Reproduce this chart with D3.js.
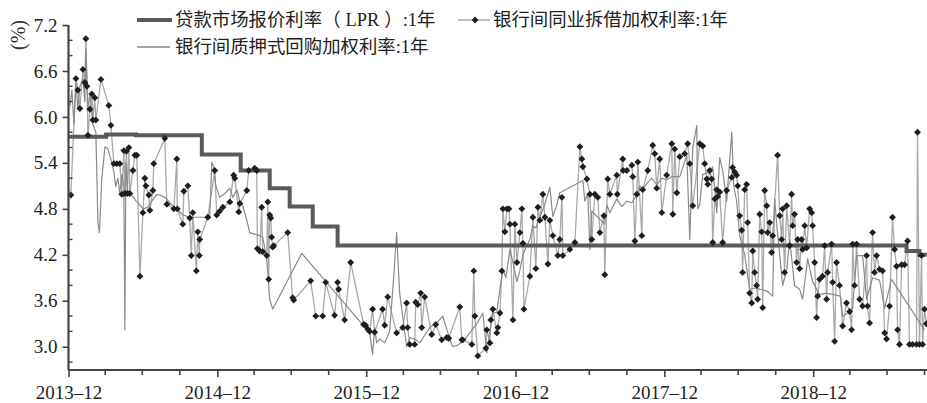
<!DOCTYPE html>
<html><head><meta charset="utf-8">
<script src="https://cdn.jsdelivr.net/npm/d3@7"></script>
<style>body{margin:0;background:#fff}svg{display:block}</style>
</head><body>
<svg id="c" width="927" height="403"></svg>
<script>
// ---- data (time as decimal year) ----
const lprData = [[2014.0,5.74],[2014.25,5.77],[2014.45,5.76],[2014.893,5.51],[2015.154,5.30],[2015.349,5.07],[2015.483,4.83],[2015.638,4.57],[2015.805,4.32],[2019.624,4.25],[2019.711,4.20],[2019.76,4.20]];

const lendingData = [[2014.013,4.98],[2014.047,6.50],[2014.060,6.35],[2014.074,6.11],[2014.094,6.62],[2014.107,6.45],[2014.114,7.02],[2014.121,6.40],[2014.128,5.76],[2014.141,6.10],[2014.154,6.30],[2014.161,5.96],[2014.174,6.25],[2014.181,5.96],[2014.215,6.49],[2014.268,6.15],[2014.282,5.89],[2014.302,5.39],[2014.322,5.39],[2014.342,5.39],[2014.356,4.99],[2014.369,5.56],[2014.376,5.00],[2014.386,5.55],[2014.393,5.00],[2014.403,5.60],[2014.409,5.00],[2014.430,5.30],[2014.443,5.50],[2014.456,5.50],[2014.477,3.92],[2014.497,4.75],[2014.510,5.20],[2014.517,5.10],[2014.537,4.98],[2014.544,4.78],[2014.564,5.04],[2014.570,5.39],[2014.644,5.72],[2014.658,4.86],[2014.705,4.80],[2014.725,5.45],[2014.728,4.80],[2014.765,4.60],[2014.772,5.03],[2014.799,5.10],[2014.812,4.68],[2014.822,4.19],[2014.832,4.75],[2014.856,3.99],[2014.866,4.50],[2014.876,4.19],[2014.879,4.40],[2014.933,4.69],[2014.980,5.30],[2014.993,4.72],[2015.013,4.77],[2015.034,4.82],[2015.081,4.89],[2015.107,5.24],[2015.114,5.20],[2015.141,4.76],[2015.148,4.87],[2015.195,5.04],[2015.208,5.30],[2015.248,5.33],[2015.262,5.30],[2015.266,4.28],[2015.282,4.25],[2015.295,4.82],[2015.302,4.24],[2015.329,4.19],[2015.336,4.89],[2015.342,3.88],[2015.349,4.72],[2015.356,4.68],[2015.362,4.43],[2015.369,4.30],[2015.376,4.32],[2015.470,4.49],[2015.503,3.64],[2015.510,3.61],[2015.624,3.86],[2015.658,3.40],[2015.705,3.40],[2015.725,3.84],[2015.785,3.41],[2015.805,3.84],[2015.812,3.75],[2015.852,3.35],[2015.893,4.10],[2015.980,3.29],[2015.993,3.28],[2016.007,3.23],[2016.020,3.20],[2016.040,3.49],[2016.054,3.19],[2016.107,3.49],[2016.121,3.28],[2016.141,3.65],[2016.201,3.18],[2016.242,3.25],[2016.268,3.57],[2016.275,3.25],[2016.289,3.03],[2016.322,3.03],[2016.329,3.58],[2016.342,3.55],[2016.362,3.70],[2016.369,3.25],[2016.389,3.65],[2016.436,3.16],[2016.463,3.29],[2016.503,3.09],[2016.537,3.12],[2016.550,3.11],[2016.624,3.52],[2016.638,3.09],[2016.644,3.09],[2016.705,3.03],[2016.718,3.99],[2016.725,3.40],[2016.745,2.88],[2016.799,2.98],[2016.805,3.22],[2016.826,3.05],[2016.832,3.35],[2016.846,3.49],[2016.872,3.18],[2016.879,3.25],[2016.893,3.44],[2016.906,3.99],[2016.913,4.80],[2016.926,4.50],[2016.940,4.80],[2016.953,4.80],[2016.960,4.60],[2016.980,3.35],[2016.993,4.60],[2017.007,4.10],[2017.027,4.49],[2017.040,4.80],[2017.047,4.35],[2017.054,3.49],[2017.094,3.92],[2017.114,4.69],[2017.134,4.02],[2017.148,4.82],[2017.161,4.65],[2017.181,4.99],[2017.195,4.69],[2017.215,4.08],[2017.228,4.65],[2017.248,4.45],[2017.282,4.19],[2017.295,4.40],[2017.309,4.95],[2017.315,4.19],[2017.362,4.27],[2017.396,4.36],[2017.430,5.61],[2017.443,5.45],[2017.450,5.35],[2017.477,5.19],[2017.497,4.99],[2017.510,4.40],[2017.530,4.99],[2017.550,4.95],[2017.564,4.49],[2017.591,4.71],[2017.597,3.94],[2017.617,5.19],[2017.631,4.99],[2017.678,5.24],[2017.681,4.99],[2017.718,5.45],[2017.721,5.30],[2017.745,5.30],[2017.779,5.37],[2017.785,5.22],[2017.799,4.38],[2017.812,4.99],[2017.819,5.41],[2017.846,4.45],[2017.852,5.05],[2017.886,5.30],[2017.919,5.63],[2017.933,5.52],[2017.946,5.07],[2017.966,5.45],[2017.980,4.75],[2018.013,5.24],[2018.047,5.65],[2018.054,4.73],[2018.067,5.58],[2018.081,5.01],[2018.101,5.48],[2018.134,5.52],[2018.154,5.65],[2018.168,5.39],[2018.188,4.84],[2018.235,5.65],[2018.255,5.62],[2018.268,5.39],[2018.282,5.19],[2018.289,5.12],[2018.302,5.30],[2018.315,5.19],[2018.322,4.36],[2018.336,4.93],[2018.349,5.05],[2018.356,4.96],[2018.369,5.02],[2018.389,4.36],[2018.416,5.04],[2018.450,5.21],[2018.456,5.34],[2018.470,5.28],[2018.483,5.24],[2018.490,5.10],[2018.503,4.71],[2018.517,4.52],[2018.523,3.97],[2018.537,5.05],[2018.550,5.12],[2018.557,4.62],[2018.570,3.70],[2018.584,3.57],[2018.591,4.25],[2018.604,3.97],[2018.617,3.80],[2018.624,3.62],[2018.638,4.73],[2018.651,4.50],[2018.658,3.51],[2018.671,5.04],[2018.685,4.84],[2018.691,4.49],[2018.705,4.62],[2018.718,4.23],[2018.725,4.45],[2018.758,5.50],[2018.772,4.71],[2018.785,4.40],[2018.792,4.80],[2018.805,3.97],[2018.819,4.84],[2018.839,4.32],[2018.852,4.99],[2018.859,4.58],[2018.872,4.73],[2018.886,4.10],[2018.893,4.40],[2018.906,4.02],[2018.919,4.40],[2018.926,4.27],[2018.940,4.58],[2018.953,4.29],[2018.973,4.80],[2018.987,4.75],[2018.993,4.58],[2019.007,4.10],[2019.020,3.38],[2019.027,3.66],[2019.040,3.88],[2019.060,3.92],[2019.074,4.32],[2019.087,3.62],[2019.094,3.97],[2019.121,4.34],[2019.128,3.84],[2019.141,3.07],[2019.154,4.10],[2019.174,3.80],[2019.195,3.27],[2019.221,3.57],[2019.242,3.46],[2019.255,3.22],[2019.262,4.34],[2019.275,3.80],[2019.289,4.34],[2019.309,3.62],[2019.329,3.53],[2019.356,4.19],[2019.362,3.53],[2019.376,3.31],[2019.396,4.49],[2019.409,3.97],[2019.423,4.19],[2019.443,4.01],[2019.463,3.99],[2019.477,3.18],[2019.490,3.10],[2019.510,3.53],[2019.530,4.69],[2019.544,4.27],[2019.557,4.05],[2019.564,3.22],[2019.577,3.03],[2019.591,4.07],[2019.611,4.07],[2019.631,4.38],[2019.644,3.03],[2019.664,3.03],[2019.691,3.03],[2019.698,5.80],[2019.711,3.03],[2019.725,4.19],[2019.732,3.03],[2019.745,3.49],[2019.758,3.30]];

const repoData = [[2014.007,6.14],[2014.020,6.35],[2014.034,5.90],[2014.047,6.45],[2014.060,6.10],[2014.074,6.40],[2014.094,6.50],[2014.107,6.20],[2014.114,6.90],[2014.128,6.10],[2014.141,6.30],[2014.161,5.90],[2014.181,5.80],[2014.195,4.62],[2014.205,4.49],[2014.221,5.20],[2014.242,5.61],[2014.262,5.58],[2014.289,5.40],[2014.302,5.28],[2014.315,5.09],[2014.329,5.20],[2014.342,5.00],[2014.356,5.25],[2014.369,5.10],[2014.376,3.22],[2014.383,5.40],[2014.396,5.00],[2014.409,5.02],[2014.443,4.92],[2014.477,4.85],[2014.497,4.80],[2014.530,4.82],[2014.557,4.90],[2014.591,4.99],[2014.624,4.97],[2014.651,4.94],[2014.691,4.85],[2014.725,4.80],[2014.765,4.72],[2014.812,4.69],[2014.879,4.69],[2014.933,4.69],[2014.946,4.69],[2014.960,5.41],[2014.973,5.35],[2014.987,5.10],[2015.013,4.95],[2015.047,5.00],[2015.081,5.07],[2015.101,4.95],[2015.128,5.05],[2015.148,4.90],[2015.168,4.84],[2015.195,4.65],[2015.215,4.49],[2015.248,4.47],[2015.282,4.45],[2015.302,4.43],[2015.329,4.14],[2015.349,3.62],[2015.369,3.49],[2015.564,4.22],[2016.020,3.18],[2016.040,2.90],[2016.054,3.25],[2016.067,3.05],[2016.087,3.10],[2016.121,3.05],[2016.154,3.20],[2016.181,3.90],[2016.201,4.49],[2016.221,3.70],[2016.248,3.30],[2016.268,3.00],[2016.289,3.12],[2016.322,3.10],[2016.356,3.05],[2016.389,3.15],[2016.423,3.25],[2016.470,3.31],[2016.510,3.40],[2016.557,3.10],[2016.577,3.00],[2016.611,3.02],[2016.658,3.10],[2016.691,3.18],[2016.738,3.30],[2016.779,3.44],[2016.805,2.92],[2016.826,3.20],[2016.846,3.44],[2016.872,3.45],[2016.893,3.75],[2016.913,4.01],[2016.933,3.90],[2016.960,4.27],[2016.980,4.10],[2017.007,3.85],[2017.027,4.00],[2017.047,4.20],[2017.074,4.32],[2017.094,4.40],[2017.114,4.58],[2017.134,4.55],[2017.161,4.70],[2017.188,4.82],[2017.228,5.08],[2017.248,4.70],[2017.275,4.85],[2017.295,5.01],[2017.450,5.17],[2017.463,4.90],[2017.483,5.00],[2017.497,4.27],[2017.510,4.77],[2017.597,4.60],[2017.611,4.85],[2017.631,4.75],[2017.678,4.93],[2017.711,4.83],[2017.745,4.90],[2017.779,4.88],[2017.812,4.98],[2017.832,5.10],[2017.852,5.05],[2017.879,5.13],[2017.913,5.20],[2017.946,5.11],[2017.980,5.20],[2018.013,5.18],[2018.047,5.22],[2018.101,5.22],[2018.148,5.50],[2018.168,4.40],[2018.188,5.60],[2018.215,5.89],[2018.221,4.80],[2018.235,4.85],[2018.255,5.25],[2018.302,5.28],[2018.322,5.35],[2018.349,4.75],[2018.369,5.47],[2018.389,5.30],[2018.416,4.90],[2018.450,5.80],[2018.463,5.10],[2018.483,4.90],[2018.503,4.45],[2018.537,4.20],[2018.570,3.75],[2018.617,3.77],[2018.638,3.75],[2018.685,3.73],[2018.725,3.66],[2018.738,4.93],[2018.752,4.60],[2018.792,3.80],[2018.819,4.00],[2018.839,4.40],[2018.872,3.80],[2018.906,3.75],[2018.926,3.62],[2018.960,4.15],[2018.993,3.85],[2019.040,3.68],[2019.087,3.70],[2019.181,3.66],[2019.195,3.40],[2019.242,3.45],[2019.262,3.50],[2019.289,4.19],[2019.329,4.19],[2019.356,3.62],[2019.396,3.90],[2019.443,3.87],[2019.477,3.50],[2019.523,3.88],[2019.745,3.22]];

const yMajorTicks = [3.0, 3.6, 4.2, 4.8, 5.4, 6.0, 6.6, 7.2];
const yMinorTicks = [2.8, 3.2, 3.4, 3.8, 4.0, 4.4, 4.6, 5.0, 5.2, 5.6, 5.8, 6.2, 6.4, 6.8, 7.0];
const xMajorTickDates = ["2013-12-31", "2014-12-31", "2015-12-31", "2016-12-31", "2017-12-31", "2018-12-31"];
const seriesNames = ["贷款市场报价利率（LPR）:1年", "银行间同业拆借加权利率:1年", "银行间质押式回购加权利率:1年"];
const unitLabel = "(%)";

// ---- helpers ----
function toDate(t) {
  const y = Math.floor(t);
  const a = new Date(y, 0, 1), b = new Date(y + 1, 0, 1);
  return new Date(+a + (t - y) * (b - a));
}
const parse = d3.timeParse("%Y-%m-%d");

const svg = d3.select("#c");
const W = 927, H = 403;
const x = d3.scaleTime().domain([new Date(2013, 11, 31), new Date(2019, 9, 6)]).range([68.5, 927]);
const y = d3.scaleLinear().domain([2.696, 7.2]).range([370, 25]);

const serif = "'Liberation Serif','Times New Roman',serif";
const cjk = "'Liberation Serif','Noto Sans CJK SC',serif";
const axisColor = "#444";

// lines
const line = d3.line().x(d => x(toDate(d[0]))).y(d => y(d[1]));
const stepLine = d3.line().curve(d3.curveStepAfter).x(d => x(toDate(d[0]))).y(d => y(d[1]));

const plot = svg.append("g");
plot.append("path").datum(lendingData).attr("d", line)
  .attr("fill", "none").attr("stroke", "#a9a9a9").attr("stroke-width", 1.3).attr("stroke-linejoin", "round");
plot.append("path").datum(repoData).attr("d", line)
  .attr("fill", "none").attr("stroke", "#8a8a8a").attr("stroke-width", 1.2).attr("stroke-linejoin", "round");
plot.append("path").datum(lprData).attr("d", stepLine)
  .attr("fill", "none").attr("stroke", "#5a5a5a").attr("stroke-width", 4);

const sym = d3.symbol().type(d3.symbolDiamond2).size(30);
plot.selectAll("path.m").data(lendingData).join("path").attr("class", "m")
  .attr("d", sym)
  .attr("transform", d => `translate(${x(toDate(d[0]))},${y(d[1])})`)
  .attr("fill", "#1e1e1e");

// axes
const xAxisG = svg.append("g").attr("transform", "translate(0,370)");
const xAx = d3.axisBottom(x)
  .tickValues(xMajorTickDates.map(parse))
  .tickSize(7).tickPadding(9)
  .tickFormat(d => d3.timeFormat("%Y")(d) + "–" + d3.timeFormat("%m")(d));
xAxisG.call(xAx);
const minorX = d3.range(0, 24).map(i => new Date(2014, 3 * i, 0))
  .filter(d => d.getMonth() !== 11 && d <= x.domain()[1]);
xAxisG.selectAll("line.minor").data(minorX).join("line").attr("class", "minor")
  .attr("x1", d => x(d)).attr("x2", d => x(d)).attr("y1", 0).attr("y2", 5)
  .attr("stroke", axisColor).attr("stroke-width", 1.6);

const yAxisG = svg.append("g").attr("transform", "translate(68.5,0)");
const yAx = d3.axisLeft(y).tickValues(yMajorTicks).tickSize(6).tickPadding(5)
  .tickFormat(d3.format(".1f"));
yAxisG.call(yAx);
yAxisG.selectAll("line.minor").data(yMinorTicks).join("line").attr("class", "minor")
  .attr("x1", 0).attr("x2", 4).attr("y1", d => y(d)).attr("y2", d => y(d))
  .attr("stroke", axisColor).attr("stroke-width", 1.4);

[xAxisG, yAxisG].forEach(g => {
  g.select(".domain").attr("stroke", axisColor).attr("stroke-width", 2.2);
  g.selectAll(".tick line").attr("stroke", axisColor).attr("stroke-width", 1.6);
  g.selectAll(".tick text").attr("fill", "#222").attr("font-family", serif).attr("font-size", 19);
});
xAxisG.select(".domain").attr("d", `M${x.range()[0]},0H${W}`);
yAxisG.select(".domain").attr("d", "M0,370V25");

// unit label (vertical)
svg.append("text")
  .attr("transform", "translate(18,35) rotate(-90)")
  .attr("text-anchor", "middle").attr("dominant-baseline", "central")
  .attr("font-family", serif).attr("font-size", 20)
  .attr("fill", "#333").text(unitLabel);

// legend
const lg = svg.append("g").attr("font-family", cjk).attr("font-size", 18.4).attr("fill", "#222");
lg.append("line").attr("x1", 137).attr("x2", 172).attr("y1", 20).attr("y2", 20)
  .attr("stroke", "#5a5a5a").attr("stroke-width", 4);
const t0 = lg.append("text").attr("x", 175).attr("y", 20).attr("dominant-baseline", "central");
const parts = seriesNames[0].match(/^(.*（)(LPR)(）.*)$/);
t0.append("tspan").text(parts[1]);
t0.append("tspan").attr("dx", 5).text(parts[2]);
t0.append("tspan").attr("dx", 5).text(parts[3]);

lg.append("line").attr("x1", 458).attr("x2", 490).attr("y1", 20).attr("y2", 20)
  .attr("stroke", "#a9a9a9").attr("stroke-width", 1.5);
lg.append("path").attr("d", sym).attr("transform", "translate(475,20)").attr("fill", "#1e1e1e");
lg.append("text").attr("x", 493).attr("y", 20).attr("dominant-baseline", "central").text(seriesNames[1]);

lg.append("line").attr("x1", 137).attr("x2", 170).attr("y1", 47).attr("y2", 47)
  .attr("stroke", "#8a8a8a").attr("stroke-width", 1.3);
lg.append("text").attr("x", 175).attr("y", 47).attr("dominant-baseline", "central").text(seriesNames[2]);
</script>
</body></html>
